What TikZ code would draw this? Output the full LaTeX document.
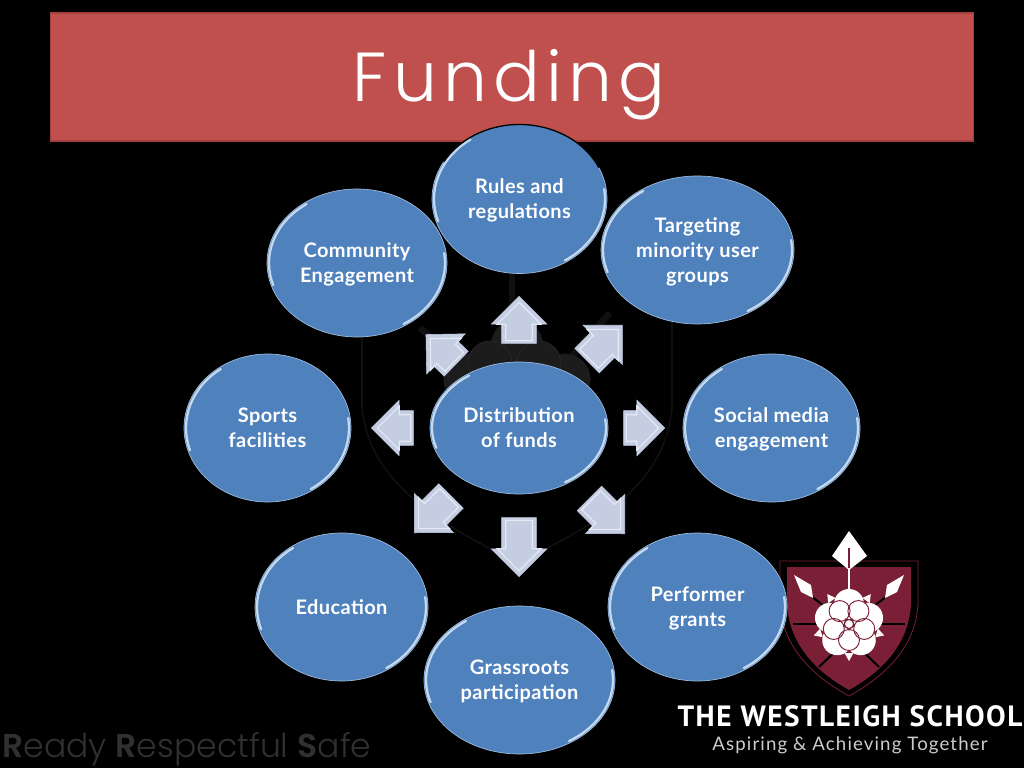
\documentclass[tikz,border=0pt]{standalone}
\usepackage{fontspec}
\usetikzlibrary{shapes.geometric,shapes.arrows}
\setmainfont{Lato}
\newfontfamily\titlefont[LetterSpace=9]{Poppins Light}
\newfontfamily\footfont{Poppins Light}
\newfontfamily\footbold{Poppins SemiBold}
\newfontfamily\bubblefont[LetterSpace=2]{Lato Bold}
\newfontfamily\schoolfont[LetterSpace=5]{PT Sans Bold}
\newfontfamily\mottofont[LetterSpace=6]{Lato}
\definecolor{bandred}{HTML}{C0504D}
\definecolor{bandedge}{HTML}{A5403E}
\definecolor{bubbleblue}{HTML}{4F81BD}
\definecolor{rimblue}{HTML}{C4D8EE}
\definecolor{arrowgrey}{HTML}{C4CDE2}
\definecolor{arrowlight}{HTML}{E4E9F4}
\definecolor{crestred}{HTML}{7A1F35}
\definecolor{ghost}{HTML}{101010}
\definecolor{ghostfill}{HTML}{1C1C1C}
\definecolor{ghostedge}{HTML}{2A2A2A}
\newcommand{\bubble}[6]{%
  \node[bubble node,minimum width=#4*0.75pt,minimum height=#5*0.75pt](#1) at (#2,#3){#6};
  \draw[rim line] (#1.center) ++(198:{(#4/2-2)} and {(#5/2-2)}) arc[start angle=198,end angle=125,x radius=#4/2-2,y radius=#5/2-2];
  \draw[rim line] (#1.center) ++(8:{(#4/2-2)} and {(#5/2-2)}) arc[start angle=8,end angle=-58,x radius=#4/2-2,y radius=#5/2-2];
}
\newcommand{\blockarrow}[5]{%
  \node[block arrow,anchor=tip,minimum height=#5*0.75pt,rotate=#4](#1) at (#2,#3){};
  \path (#1.tip) ++(#4+180:5.5) node[inner arrow,anchor=tip,minimum height=#5*0.75pt-6.5pt,rotate=#4](#1i){};
}
\begin{document}
\begin{tikzpicture}[x=0.75pt,y=0.75pt]
        \tikzstyle{bubble node}=[ellipse,draw=rimblue!70!bubbleblue,line width=0.5pt,fill=bubbleblue,inner sep=0,align=center,text=white,text depth=0pt,font=\bubblefont\fontsize{15}{18.75}\selectfont]
        \tikzstyle{rim line}=[draw=rimblue,line width=1.7pt,line cap=round]
        \tikzstyle{block arrow}=[single arrow,fill=arrowgrey,draw=arrowgrey,inner xsep=0,inner ysep=12.75pt,single arrow head extend=7.9pt]
        \tikzstyle{inner arrow}=[single arrow,draw=arrowlight,line width=0.9pt,inner xsep=0,inner ysep=9.5pt,single arrow head extend=6.5pt]
        \tikzstyle{crest line}=[draw=crestred,line width=0.6pt]

        % Background and title band
        \fill[black] (0,0) rectangle (1024,768);
        \useasboundingbox (0,0) rectangle (1024,768);
        \node[rectangle,fill=bandred,draw=bandedge,line width=1pt,minimum width=692pt,minimum height=96pt,inner sep=0](band) at (512,691){};
        \node[text=white,font=\titlefont\fontsize{52}{52}\selectfont,anchor=base,inner sep=0](title) at (509,666){Funding};

        % Faint crest behind the arrows
        \draw[ghost,line width=1.2pt] (362,510) -- (362,360) .. controls (370,280) and (450,240) .. (517,205) .. controls (590,240) and (665,280) .. (672,360) -- (672,510);
        \draw[ghost,line width=5pt] (512,500) -- (512,420);
        \draw[ghost,line width=5pt] (610,455) -- (570,410);
        \draw[ghost,line width=5pt] (420,440) -- (460,405);
        \foreach \a in {90,162,18} {
                \fill[ghostfill] (517,373) ++(\a:50) circle (26);
            }
        \draw[ghostedge,fill=ghostfill] (490,405) circle (22);
        \draw[ghostedge,fill=ghostfill] (539,405) circle (22);

        % School crest
        \begin{scope}[shift={(849,144)}]
                \draw[crest line] (-69,63) -- (69,63) -- (69,20) .. controls (67,-20) and (40,-50) .. (0,-72) .. controls (-40,-50) and (-67,-20) .. (-69,20) -- cycle;
                \fill[crestred] (-62,57) -- (62,57) -- (62,20) .. controls (60,-18) and (36,-46) .. (0,-66) .. controls (-36,-46) and (-60,-18) .. (-62,20) -- cycle;
                \draw[black,line width=1.5pt] (-56,0) -- (56,0);
                \draw[black,line width=1.5pt] (-30,-43) -- (30,15);
                \draw[black,line width=1.5pt] (30,-43) -- (-30,15);
                \draw[black,line width=1.5pt] (-38,28) -- (-20,14);
                \draw[black,line width=1.5pt] (38,28) -- (20,14);
                \fill[white] (-55,49) -- (-38,39) -- (-36,26) -- (-48,32) -- cycle;
                \fill[white] (55,49) -- (38,39) -- (36,26) -- (48,32) -- cycle;
                \fill[white] (0,93) -- (18,68) -- (0,54) -- (-17,68) -- cycle;
                \draw[white,line width=2pt] (0,56) -- (0,30);
                \draw[crestred,line width=0.9pt] (0,76) -- (0,56);
                \foreach \a in {90,162,234,306,18} {
                        \fill[white] (0,0) ++(\a:20) circle (15);
                    }
                \foreach \a in {54,126,198,270,342} {
                        \fill[white] (\a:29) -- ++(\a+90:4.5) -- (\a:37) -- cycle;
                        \fill[white] (\a:29) -- ++(\a-90:4.5) -- (\a:37) -- cycle;
                    }
                \foreach \a in {54,126,198,270,342} {
                        \draw[crestred,line width=0.7pt] (0,0) ++(\a:16) circle (10.5);
                    }
                \draw[crestred,line width=0.7pt,fill=white] (0,0) circle (4.5);
            \end{scope}
        \node[text=white,font=\schoolfont\fontsize{22}{22}\selectfont,anchor=base,inner sep=0](school) at (850,42){THE WESTLEIGH SCHOOL};
        \node[text=white!80!black,font=\mottofont\fontsize{14}{14}\selectfont,anchor=base,inner sep=0](motto) at (850,18){Aspiring \& Achieving Together};

        % Footer text
        \node[text=white!19!black,font=\footfont\fontsize{24.8}{25}\selectfont,anchor=base west,inner sep=0](footer) at (2,11){{\footbold R}eady {\footbold R}espectful {\footbold S}afe};

        % Arrows around the centre
        \blockarrow{arrowup}{519}{472}{90}{47}
        \blockarrow{arrowupright}{622.7}{443}{45}{50}
        \blockarrow{arrowright}{665}{340}{0}{41}
        \blockarrow{arrowdownright}{625}{234}{-45}{50}
        \blockarrow{arrowdown}{519}{191}{-90}{59}
        \blockarrow{arrowdownleft}{414}{235}{225}{52}
        \blockarrow{arrowleft}{371}{340}{180}{42}
        \blockarrow{arrowupleft}{425.7}{433.7}{136}{42}

        % Bubbles
        \bubble{rules}{519.5}{569}{175}{149}{Rules and\\regulations}
        \draw[black,line width=1pt] (rules.center) ++(25:87.5 and 74.5) arc[start angle=25,end angle=150,x radius=87.5,y radius=74.5];
        \bubble{community}{357}{505}{180}{148}{Community\\Engagement}
        \bubble{targeting}{697.5}{518}{193}{148}{Targeting\\minority user\\groups}
        \bubble{sports}{267.5}{340}{167}{148}{Sports\\facilities}
        \bubble{distribution}{519}{340}{178}{132}{Distribution\\of funds}
        \bubble{social}{771.5}{340}{177}{148}{Social media\\engagement}
        \bubble{education}{341.5}{161}{173}{148}{Education}
        \bubble{performer}{697.5}{161}{179}{148}{Performer\\grants}
        \bubble{grassroots}{519.5}{88}{191}{148}{Grassroots\\participation}
    \end{tikzpicture}
\end{document}
